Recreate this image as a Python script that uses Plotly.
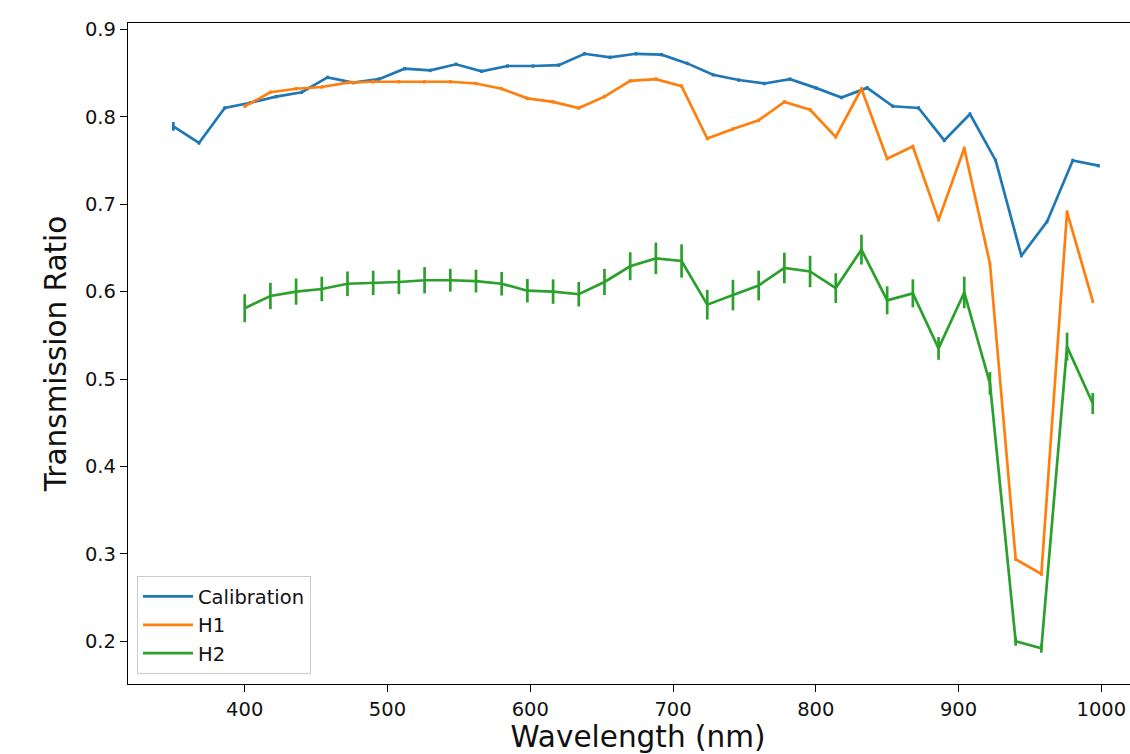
import plotly.graph_objects as go

# Wavelength grids (nm)
cal_wl = [350 + 18 * k for k in range(37)]
h_wl = [400 + 18 * k for k in range(34)]

cal_val = [0.789, 0.770, 0.810, 0.816, 0.823, 0.828, 0.845, 0.839, 0.843, 0.855,
           0.853, 0.860, 0.852, 0.858, 0.858, 0.859, 0.872, 0.868, 0.872, 0.871,
           0.861, 0.848, 0.842, 0.838, 0.843, 0.833, 0.822, 0.833, 0.812, 0.810,
           0.773, 0.803, 0.750, 0.641, 0.680, 0.750, 0.744]
cal_err = [0.005] + [0.002] * 36

h1_val = [0.812, 0.828, 0.832, 0.834, 0.839, 0.840, 0.840, 0.840, 0.840, 0.838,
          0.832, 0.821, 0.817, 0.810, 0.823, 0.841, 0.843, 0.835, 0.775, 0.786,
          0.796, 0.817, 0.808, 0.777, 0.832, 0.752, 0.766, 0.682, 0.764, 0.632,
          0.294, 0.277, 0.691, 0.589]
h1_err = [0.002] * 34

h2_val = [0.581, 0.595, 0.600, 0.603, 0.609, 0.610, 0.611, 0.613, 0.613, 0.612,
          0.609, 0.601, 0.600, 0.597, 0.611, 0.629, 0.638, 0.635, 0.585, 0.596,
          0.607, 0.627, 0.623, 0.604, 0.648, 0.590, 0.598, 0.535, 0.599, 0.495,
          0.200, 0.192, 0.537, 0.472]
h2_err = [0.016, 0.015, 0.015, 0.014, 0.014, 0.014, 0.014, 0.015, 0.013, 0.013,
          0.0135, 0.0135, 0.014, 0.014, 0.015, 0.016, 0.018, 0.019, 0.017, 0.0175,
          0.017, 0.0175, 0.018, 0.017, 0.017, 0.016, 0.016, 0.013, 0.018, 0.013,
          0.005, 0.005, 0.016, 0.012]

series = [
    ("Calibration", cal_wl, cal_val, cal_err, "#1f77b4"),
    ("H1", h_wl, h1_val, h1_err, "#ff7f0e"),
    ("H2", h_wl, h2_val, h2_err, "#2ca02c"),
]

x_ticks = [400, 500, 600, 700, 800, 900, 1000]
y_ticks = [0.2, 0.3, 0.4, 0.5, 0.6, 0.7, 0.8, 0.9]

FONT = "DejaVu Sans"
LW = 2.7
TXT = "#111111"

fig = go.Figure()
for name, xs, ys, es, col in series:
    fig.add_trace(go.Scatter(
        x=xs, y=ys, name=name, mode="lines",
        line=dict(color=col, width=LW),
        error_y=dict(type="data", array=es, visible=True, color=col,
                     thickness=LW, width=0),
    ))

# The original figure's right spine lies just beyond the visible 1130 px;
# the figure is made 1150 wide and the page clips it at the window edge.
fig.update_layout(
    width=1150, height=754,
    margin=dict(l=128, r=2, t=23, b=70),
    paper_bgcolor="white", plot_bgcolor="white",
    font=dict(family=FONT, color=TXT, size=19.5),
    showlegend=True,
    legend=dict(
        x=0.0088, y=0.163, xanchor="left", yanchor="top",
        bgcolor="rgba(255,255,255,0.8)", bordercolor="#cccccc", borderwidth=1,
        itemwidth=50,
        font=dict(family=FONT, size=19.5, color=TXT),
    ),
    xaxis=dict(
        range=[318.26, 1032.7], tickvals=x_ticks, ticktext=[str(v) for v in x_ticks],
        showgrid=False, zeroline=False,
        showline=True, linecolor="black", linewidth=1.3, mirror=True,
        ticks="outside", ticklen=7, tickwidth=1.3, tickcolor="black",
        tickfont=dict(family=FONT, size=19.5, color=TXT),
        title=dict(text="Wavelength (nm)", font=dict(family=FONT, size=29.5, color=TXT),
                   standoff=11),
    ),
    yaxis=dict(
        range=[0.1512, 0.9072], tickvals=y_ticks, ticktext=[f"{v:.1f}" for v in y_ticks],
        showgrid=False, zeroline=False,
        showline=True, linecolor="black", linewidth=1.3, mirror=True,
        ticks="outside", ticklen=7, tickwidth=1.3, tickcolor="black",
        tickfont=dict(family=FONT, size=19.5, color=TXT),
        title=dict(text="Transmission Ratio", font=dict(family=FONT, size=29.5, color=TXT),
                   standoff=9),
    ),
)

fig.write_html(
    "out.html",
    config={"displayModeBar": False},
    post_script="document.body.style.margin='0';document.body.style.overflow='hidden';",
)
